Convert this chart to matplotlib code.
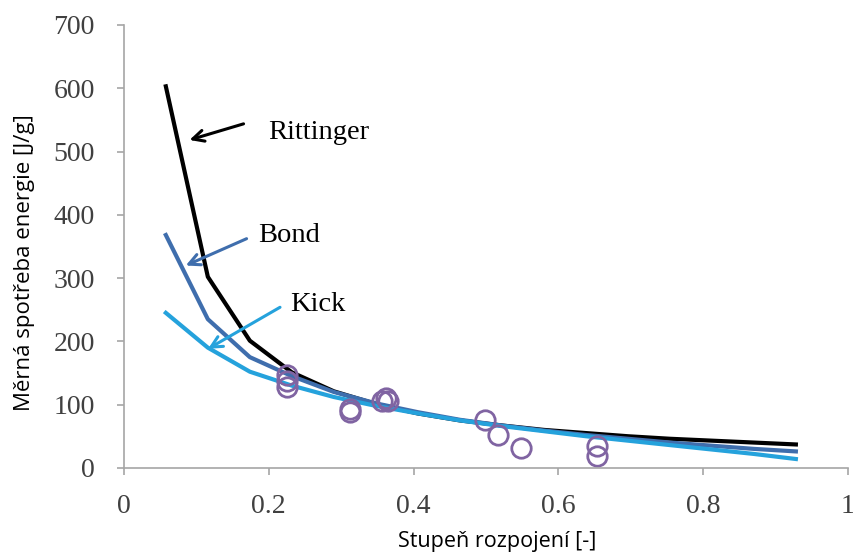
import matplotlib
matplotlib.use("Agg")
import matplotlib.pyplot as plt

# Data
x_model = [0.058, 0.116, 0.174, 0.232, 0.290, 0.348, 0.406, 0.464, 0.522, 0.580,
           0.638, 0.696, 0.754, 0.812, 0.870, 0.928]
rittinger = [603, 302, 201, 151, 121, 101, 86, 75, 67, 60, 55, 50, 46, 43, 40, 37]
bond = [368, 235, 175, 145, 120, 102, 88, 76, 67, 59, 52, 46, 40, 35, 30, 26]
kick = [245, 190, 152, 130, 112, 98, 86, 75, 66, 58, 50, 43, 36, 29, 22, 14]

x_meas = [0.226, 0.226, 0.226, 0.312, 0.312, 0.357, 0.362, 0.365, 0.499, 0.516, 0.548, 0.654, 0.654]
y_meas = [147, 137, 128, 93, 88, 105, 110, 106, 76, 52, 31, 35, 18]

xticks = [0, 0.2, 0.4, 0.6, 0.8, 1]
xticklabels = ["0", "0.2", "0.4", "0.6", "0.8", "1"]
yticks = [0, 100, 200, 300, 400, 500, 600, 700]

c_ritt = "#000000"
c_bond = "#3F6EAD"
c_kick = "#25A2DC"
c_meas = "#8064A2"

fig = plt.figure(figsize=(8.54, 5.55), dpi=100)
ax = fig.add_axes([0.145, 0.157, 0.848, 0.798])

ax.plot(x_model, rittinger, color=c_ritt, lw=3, solid_joinstyle="round")
ax.plot(x_model, bond, color=c_bond, lw=3, solid_joinstyle="round")
ax.plot(x_model, kick, color=c_kick, lw=3, solid_joinstyle="round")
ax.plot(x_meas, y_meas, linestyle="none", marker="o", markersize=14,
        markerfacecolor="none", markeredgecolor=c_meas, markeredgewidth=2)

ax.set_xlim(0, 1)
ax.set_ylim(0, 700)
ax.set_xticks(xticks)
ax.set_xticklabels(xticklabels)
ax.set_yticks(yticks)

for s in ["top", "right"]:
    ax.spines[s].set_visible(False)
for s in ["left", "bottom"]:
    ax.spines[s].set_color("#A6A6A6")
    ax.spines[s].set_linewidth(1.2)

ax.tick_params(axis="both", direction="out", length=5, width=1.2, color="#A6A6A6",
               labelsize=20, labelcolor="#404040")
for lab in ax.get_xticklabels() + ax.get_yticklabels():
    lab.set_fontfamily("Liberation Serif")
ax.tick_params(axis="y", pad=16)
ax.tick_params(axis="x", pad=14)

ax.set_xlabel("Stupeň rozpojení [-]", fontfamily="Open Sans", fontsize=15.5)
ax.set_ylabel("Měrná spotřeba energie [J/g]", fontfamily="Open Sans", fontsize=16)
ax.xaxis.set_label_coords(0.515, -0.167)
ax.xaxis.label.set_va("center")
ax.xaxis.label.set_ha("center")
ax.yaxis.set_label_coords(-0.137, 0.463)
ax.yaxis.label.set_va("center")
ax.yaxis.label.set_ha("center")

# Annotations
ax.annotate("", xy=(0.087, 517), xytext=(0.169, 545),
            arrowprops=dict(arrowstyle="->,head_length=0.8,head_width=0.4", color=c_ritt, lw=2.2))
ax.text(0.199, 530, "Rittinger", fontfamily="Liberation Serif", fontsize=20.5, va="center", ha="left")

ax.annotate("", xy=(0.082, 318), xytext=(0.173, 364),
            arrowprops=dict(arrowstyle="->,head_length=0.8,head_width=0.4", color=c_bond, lw=2.2))
ax.text(0.185, 368, "Bond", fontfamily="Liberation Serif", fontsize=20.5, va="center", ha="left")

ax.annotate("", xy=(0.113, 186), xytext=(0.219, 256),
            arrowprops=dict(arrowstyle="->,head_length=0.8,head_width=0.4", color=c_kick, lw=2.2))
ax.text(0.229, 258, "Kick", fontfamily="Liberation Serif", fontsize=20.5, va="center", ha="left")

fig.savefig("out.png", dpi=100)
